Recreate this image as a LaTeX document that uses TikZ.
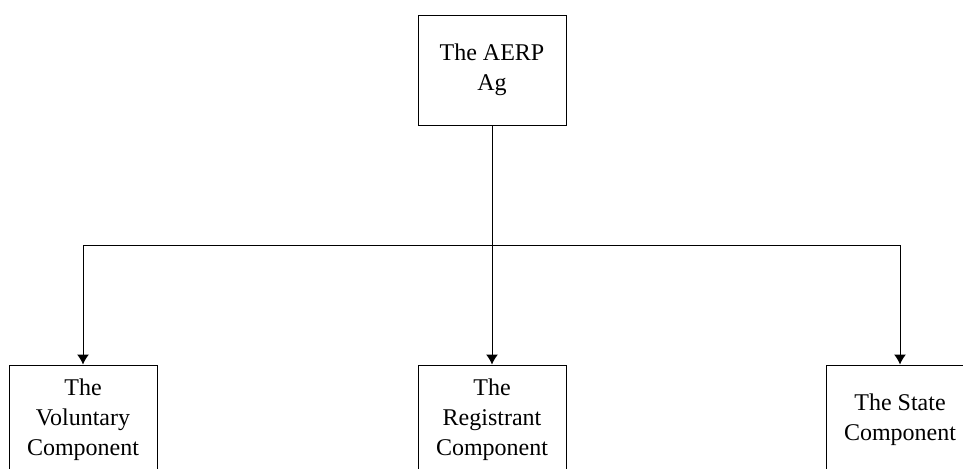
\documentclass[tikz,border=0pt]{standalone}
\usepackage{fontspec}
\setmainfont{Liberation Serif}
\usetikzlibrary{arrows.meta, calc, positioning}

\begin{document}
\begin{tikzpicture}[x=0.5pt, y=0.5pt, >={Latex[length=5pt,width=6pt]}, font=\fontsize{12}{15}\selectfont,
  unit/.style={draw, rectangle, line width=0.5pt, minimum width=74pt, minimum height=55pt, inner sep=0pt, align=center}]

\useasboundingbox (0,0) rectangle (963,-468);

\node[unit] (aerp) at (492,-70) {The AERP\\Ag};
\node[unit, below=119.5pt of aerp] (registrant) {The\\Registrant\\Component};
\node[unit, left=130pt of registrant] (voluntary) {The\\Voluntary\\Component};
\node[unit, right=129.5pt of registrant] (state) {The State\\Component};

\coordinate (split) at ($(aerp.south)!0.5!(registrant.north)$);

\draw[->, line width=0.5pt] (aerp.south) -- (registrant.north);
\draw[->, line width=0.5pt] (split) -| (voluntary.north);
\draw[->, line width=0.5pt] (split) -| (state.north);

\end{tikzpicture}
\end{document}
